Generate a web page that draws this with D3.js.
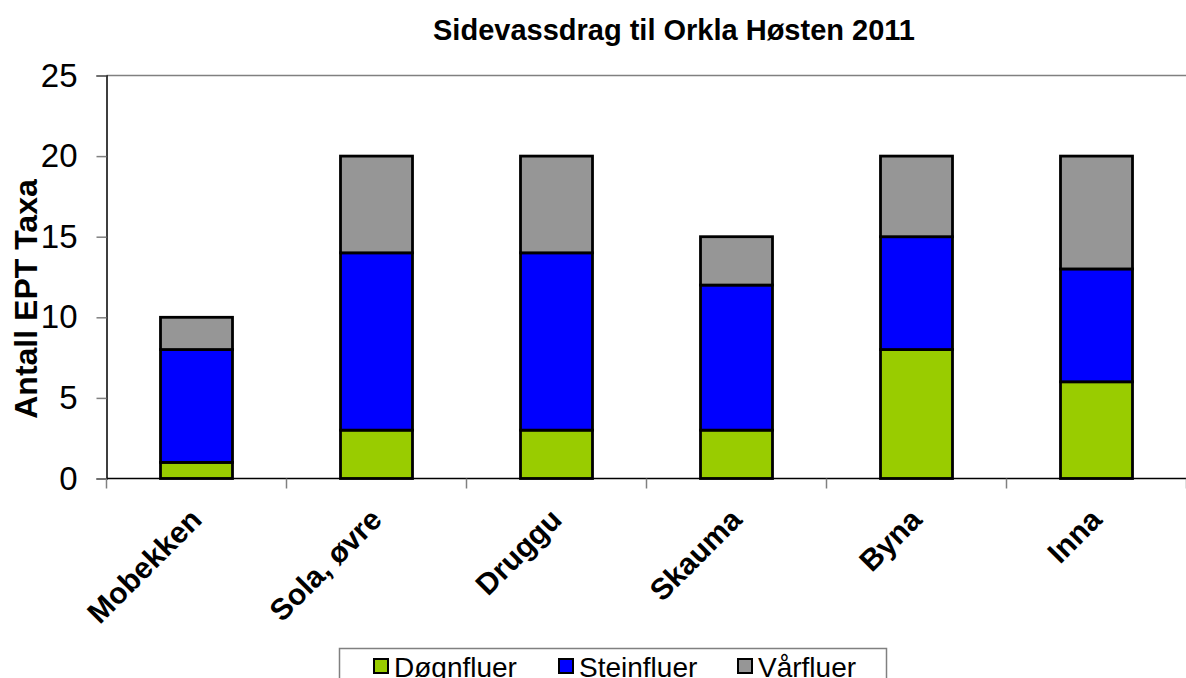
<!DOCTYPE html>
<meta charset="utf-8">
<script src="https://d3js.org/d3.v7.min.js"></script>
<style>
  body { margin: 0; background: #fff; }
  text { font-family: "Liberation Sans", Arial, sans-serif; }
</style>
<div id="chart"></div>
<script>
    // data
    var categories = ["Mobekken", "Sola, øvre", "Druggu", "Skauma", "Byna", "Inna"];
    var series = ["Døgnfluer", "Steinfluer", "Vårfluer"];
    var dognfluer = [1, 3, 3, 3, 8, 6];
    var steinfluer = [7, 11, 11, 9, 7, 7];
    var varfluer = [2, 6, 6, 3, 5, 7];
    var yTicks = [0, 5, 10, 15, 20, 25];
    var colors = ["#99CC00", "#0000FF", "#969696"];

    var W = 1186, H = 678;
    var plotL = 106.5, plotR = 1186.5, plotT = 75.5, plotB = 478.5;

    var svg = d3.select("#chart").append("svg")
        .attr("width", W).attr("height", H);

    var x = d3.scaleBand().domain(categories)
        .range([plotL, plotR]).paddingInner(0.6).paddingOuter(0.3);
    var y = d3.scaleLinear().domain([0, 25]).range([plotB, plotT]);

    // table for the stack
    var table = categories.map(function(c, i) {
        return { cat: c, "Døgnfluer": dognfluer[i], "Steinfluer": steinfluer[i], "Vårfluer": varfluer[i] };
    });
    var stacked = d3.stack().keys(series)(table);

    // top border line
    svg.append("line")
        .attr("x1", plotL).attr("x2", plotR)
        .attr("y1", y(25)).attr("y2", y(25))
        .attr("stroke", "#808080").attr("stroke-width", 1.5);

    // y axis
    var yAxis = svg.append("g")
        .attr("transform", "translate(" + plotL + ",0)")
        .call(d3.axisLeft(y).tickValues(yTicks).tickSize(10).tickPadding(19));
    yAxis.select(".domain").attr("stroke", "#000").attr("stroke-width", 1.5);
    yAxis.selectAll(".tick line").attr("stroke", "#808080").attr("stroke-width", 1.5);
    yAxis.selectAll(".tick text")
        .style("font-family", "'Liberation Sans', Arial, sans-serif")
        .style("font-size", "33px").attr("fill", "#000");

    // bars
    svg.selectAll(".layer")
        .data(stacked).enter()
        .append("g")
        .attr("fill", function(d, i) { return colors[i]; })
        .selectAll("rect")
        .data(function(d) { return d; }).enter()
        .append("rect")
        .attr("x", function(d) { return x(d.data.cat); })
        .attr("y", function(d) { return y(d[1]); })
        .attr("width", x.bandwidth())
        .attr("height", function(d) { return y(d[0]) - y(d[1]); })
        .attr("stroke", "#000").attr("stroke-width", 2.8);

    // x axis line + ticks between categories
    svg.append("line")
        .attr("x1", plotL).attr("x2", plotR)
        .attr("y1", plotB).attr("y2", plotB)
        .attr("stroke", "#000").attr("stroke-width", 1.5);
    var bounds = d3.range(categories.length + 1).map(function(i) { return plotL + i * x.step(); });
    svg.selectAll(".xtick")
        .data(bounds).enter()
        .append("line")
        .attr("x1", function(d) { return d; }).attr("x2", function(d) { return d; })
        .attr("y1", plotB).attr("y2", plotB + 10)
        .attr("stroke", "#808080").attr("stroke-width", 1.5);

    // x labels, rotated
    svg.selectAll(".xlab")
        .data(categories).enter()
        .append("text")
        .attr("transform", function(d) {
            return "translate(" + (x(d) + x.bandwidth() / 2 + 7) + "," + (plotB + 43) + ") rotate(-45)";
        })
        .attr("text-anchor", "end")
        .style("font-size", "30px").style("font-weight", "bold")
        .text(function(d) { return d; });

    // y title
    svg.append("text")
        .attr("transform", "translate(37,299) rotate(-90)")
        .attr("text-anchor", "middle")
        .style("font-size", "32px").style("font-weight", "bold")
        .text("Antall EPT Taxa");

    // chart title
    svg.append("text")
        .attr("x", 674).attr("y", 40)
        .attr("text-anchor", "middle")
        .style("font-size", "29px").style("font-weight", "bold")
        .text("Sidevassdrag til Orkla Høsten 2011");

    // legend
    var lg = svg.append("g");
    lg.append("rect")
        .attr("x", 339.5).attr("y", 648.5).attr("width", 547).attr("height", 50)
        .attr("fill", "#fff").attr("stroke", "#808080").attr("stroke-width", 1.5);
    var lx = [374, 559, 738];
    series.forEach(function(s, i) {
        lg.append("rect")
            .attr("x", lx[i]).attr("y", 659).attr("width", 14).attr("height", 14)
            .attr("fill", colors[i]).attr("stroke", "#000").attr("stroke-width", 2);
        lg.append("text")
            .attr("x", lx[i] + 20).attr("y", 677)
            .style("font-size", "28px")
            .text(s);
    });
</script>
